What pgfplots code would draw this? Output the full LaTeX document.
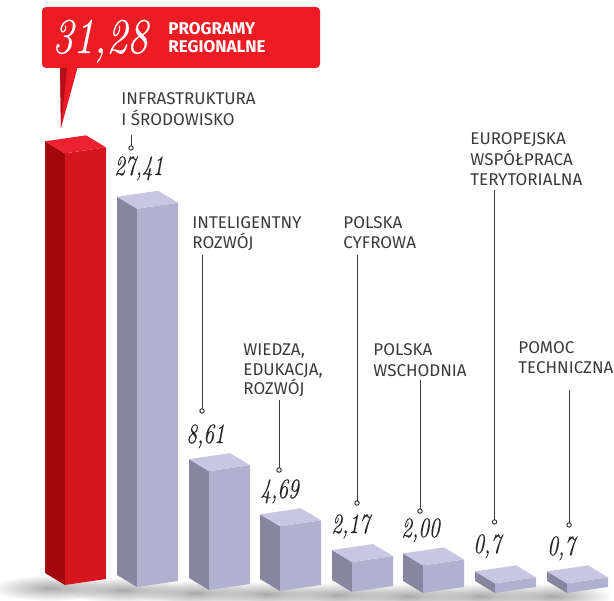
\documentclass[border=0pt]{standalone}
\usepackage{fontspec}
\usepackage{pgfplots}
\pgfplotsset{compat=1.18}
\usetikzlibrary{fadings}
\newfontfamily\lblfont{Fira Sans}
\newfontfamily\numfont{Latin Modern Roman}[ItalicFeatures={FakeBold=0.4}]
\definecolor{rTop}{HTML}{EC2230}
\definecolor{rFront}{HTML}{D5161F}
\definecolor{rLeft}{HTML}{A3060F}
\definecolor{gTop}{HTML}{C8C6E3}
\definecolor{gFront}{HTML}{B2B0CF}
\definecolor{gLeft}{HTML}{87859F}
\definecolor{callout}{HTML}{ED1C24}
\definecolor{calloutDark}{HTML}{B50F19}
\definecolor{txt}{HTML}{3A3A3A}
\tikzfading[name=softfade, inner color=transparent!25, outer color=transparent!100]
% 3D box: #1 front x (px), #2 base (value units), #3 value, #4 colour prefix
\newcommand\cubebar[4]{%
  \pgfmathsetmacro\xf{#1}%
  \pgfmathsetmacro\xl{#1-20}%
  \pgfmathsetmacro\xr{#1+41}%
  \pgfmathsetmacro\xb{#1+21}%
  \pgfmathsetmacro\yf{#2}%
  \pgfmathsetmacro\yt{#2+#3}%
  \pgfmathsetmacro\ylb{#2+0.87}%
  \pgfmathsetmacro\ylt{#2+#3+0.87}%
  \pgfmathsetmacro\yrb{#2+0.435}%
  \pgfmathsetmacro\yrt{#2+#3+0.435}%
  \pgfmathsetmacro\ybt{#2+#3+1.304}%
  \edef\tmp{%
    \noexpand\addplot[draw=none,fill=#4Left] coordinates {(\xl,\ylb) (\xf,\yf) (\xf,\yt) (\xl,\ylt)};
    \noexpand\addplot[draw=none,fill=#4Front] coordinates {(\xf,\yf) (\xr,\yrb) (\xr,\yrt) (\xf,\yt)};
    \noexpand\addplot[draw=none,fill=#4Top] coordinates {(\xl,\ylt) (\xf,\yt) (\xr,\yrt) (\xb,\ybt)};
  }\tmp
}
\newcommand\lbl{\lblfont\fontsize{8.5pt}{10pt}\selectfont}
\newcommand\num[1]{\scalebox{0.76}[1]{\fontsize{14pt}{15pt}\numfont\itshape #1}}
\pgfplotsset{leader/.style={color=txt, solid, line width=0.5pt, mark=*, mark indices={2}, mark size=1.1pt, mark options={fill=white, draw=txt, solid, line width=0.5pt}}}
\begin{document}
\begin{tikzpicture}
\useasboundingbox (0,0) rectangle (307pt,300pt);
\clip (0,0) rectangle (307pt,300pt);
\begin{scope}[shift={(0pt,300pt)}, x=0.5pt, y=-0.5pt]
  \foreach \fx/\by in {65/588, 137/590, 209/593, 280/594, 352/595, 423/596, 495/596, 567/596}{
    \fill[black!45, path fading=softfade] (\fx-14,\by) ellipse (60 and 13);
  }
\end{scope}
\begin{axis}[at={(0,0)}, anchor=south west, scale only axis,
  width=307pt, height=300pt, xmin=0, xmax=614, ymin=-1.087, ymax=42.391,
  axis lines=none, clip=false]
  \cubebar{65}{0}{31.28}{r}
  \cubebar{137}{-0.145}{27.41}{g}
  \cubebar{209}{-0.362}{8.61}{g}
  \cubebar{280}{-0.435}{4.69}{g}
  \cubebar{352}{-0.507}{2.17}{g}
  \cubebar{423}{-0.58}{2.00}{g}
  \cubebar{495}{-0.58}{0.7}{g}
  \cubebar{567}{-0.58}{0.7}{g}
  \addplot[leader] coordinates {(131,32.61) (131,31.67)};
  \addplot[leader] coordinates {(202,23.91) (202,12.61)};
  \addplot[leader] coordinates {(279,13.41) (279,8.33)};
  \addplot[leader] coordinates {(357,23.91) (357,5.94)};
  \addplot[leader] coordinates {(420,14.86) (420,5.36)};
  \addplot[leader] coordinates {(494.5,28.62) (494.5,4.57)};
  \addplot[leader] coordinates {(569,14.13) (569,4.35)};
\end{axis}
\begin{scope}[shift={(0pt,300pt)}, x=0.5pt, y=-0.5pt]
  % callout
  \fill[callout, rounded corners=2pt] (42,7) rectangle (320,68);
  \fill[callout] (60,66) -- (78,66) -- (61,128) -- cycle;
  \fill[calloutDark] (60,68) -- (67,68) -- (61,128) -- cycle;
  \node[anchor=base west, inner sep=0, white] at (52,53) {\scalebox{0.83}[1]{\fontsize{25pt}{26pt}\numfont\itshape 31,28}};
  \node[anchor=base west, inner sep=0, white, font=\lbl\bfseries] at (168,35) {PROGRAMY};
  \node[anchor=base west, inner sep=0, white, font=\lbl\bfseries] at (168,53) {REGIONALNE};
  % category labels
  \begin{scope}[every node/.style={anchor=base west, inner sep=0, text=txt, font=\lbl}]
    \node at (121,105) {INFRASTRUKTURA};
    \node at (121,126) {I ŚRODOWISKO};
    \node at (192,228.5) {INTELIGENTNY};
    \node at (192,248.5) {ROZWÓJ};
    \node at (243,355) {WIEDZA,};
    \node at (243,375) {EDUKACJA,};
    \node at (243,394) {ROZWÓJ};
    \node at (343,228.5) {POLSKA};
    \node at (343,248.5) {CYFROWA};
    \node at (373,355) {POLSKA};
    \node at (373,376) {WSCHODNIA};
    \node at (470,145) {EUROPEJSKA};
    \node at (470,165.5) {WSPÓŁPRACA};
    \node at (470,185.5) {TERYTORIALNA};
    \node at (518,353.5) {POMOC};
    \node at (518,373.5) {TECHNICZNA};
  \end{scope}
  % values
  \begin{scope}[every node/.style={anchor=base west, inner sep=0, text=black!85}]
    \node at (114,175) {\num{27,41}};
    \node at (186,443) {\num{8,61}};
    \node at (260,498) {\num{4,69}};
    \node at (331,533) {\num{2,17}};
    \node at (401,537) {\num{2,00}};
    \node at (473,553) {\num{0,7}};
    \node at (547,555) {\num{0,7}};
  \end{scope}
\end{scope}
\end{tikzpicture}
\end{document}
